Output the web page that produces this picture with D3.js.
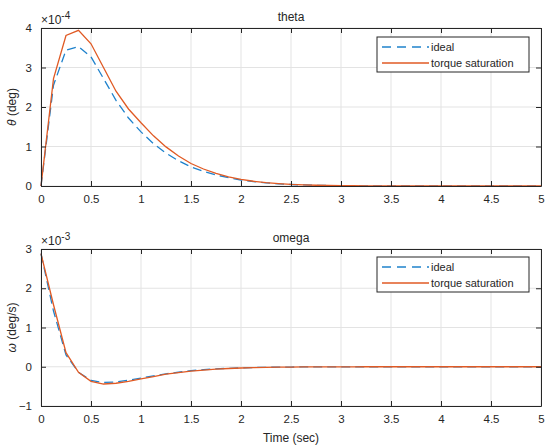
<!DOCTYPE html>
<html>
<head>
<meta charset="utf-8">
<script src="https://cdn.jsdelivr.net/npm/d3@7"></script>
<style>
  body { margin: 0; background: #fff; }
  svg text { font-family: "Liberation Sans", Arial, sans-serif; fill: #262626; }
</style>
</head>
<body>
<div id="chart"></div>
<script>
///////////// Data /////////////////

// time samples (sec), step 0.125
const time = d3.range(0, 5.0001, 0.125);

// theta (x 1e-4 deg)
const thetaIdeal = [0, 2.55, 3.44, 3.53, 3.27, 2.72, 2.17, 1.72, 1.37, 1.07, 0.83, 0.64, 0.48, 0.37, 0.28, 0.21,
    0.15, 0.11, 0.08, 0.055, 0.038, 0.026, 0.018, 0.012, 0.008, 0.005, 0.003, 0.002, 0.001, 0.001, 0,
    0, 0, 0, 0, 0, 0, 0, 0, 0, 0];
const thetaSat = [0, 2.72, 3.81, 3.94, 3.6, 3.0, 2.4, 1.95, 1.6, 1.27, 0.99, 0.76, 0.57, 0.43, 0.32, 0.23,
    0.17, 0.12, 0.085, 0.06, 0.04, 0.028, 0.019, 0.013, 0.009, 0.006, 0.004, 0.003, 0.002, 0.001, 0.001,
    0, 0, 0, 0, 0, 0, 0, 0, 0, 0];

// omega (x 1e-3 deg/s)
const omegaIdeal = [2.88, 1.42, 0.3, -0.14, -0.35, -0.4, -0.39, -0.34, -0.29, -0.23, -0.18, -0.14, -0.1, -0.075,
    -0.055, -0.04, -0.029, -0.02, -0.014, -0.01, -0.007, -0.005, -0.003, -0.002, -0.001, -0.001, 0,
    0, 0, 0, 0, 0, 0, 0, 0, 0, 0, 0, 0, 0, 0];
const omegaSat = [2.88, 1.58, 0.36, -0.14, -0.37, -0.44, -0.42, -0.37, -0.31, -0.25, -0.19, -0.15, -0.11, -0.085,
    -0.06, -0.045, -0.032, -0.022, -0.016, -0.011, -0.008, -0.005, -0.003, -0.002, -0.001, -0.001, 0,
    0, 0, 0, 0, 0, 0, 0, 0, 0, 0, 0, 0, 0, 0];

const xTicks = [0, 0.5, 1, 1.5, 2, 2.5, 3, 3.5, 4, 4.5, 5];
const seriesNames = ["ideal", "torque saturation"];
const colors = ["#1f82cc", "#e05a24"];

///////////// Layout /////////////////

const W = 545, H = 447;
const svg = d3.select("#chart").append("svg").attr("width", W).attr("height", H);

const x = d3.scaleLinear().domain([0, 5]).range([41, 541]);

const panels = [
    { title: "theta", ylab: ["θ", " (deg)"], exp: "-4", yDom: [0, 4], yRange: [186, 28],
      yTicks: [0, 1, 2, 3, 4], data: [thetaIdeal, thetaSat], legendTop: 37 },
    { title: "omega", ylab: ["ω", " (deg/s)"], exp: "-3", yDom: [-1, 3], yRange: [406, 249],
      yTicks: [-1, 0, 1, 2, 3], data: [omegaIdeal, omegaSat], legendTop: 257 }
];

panels.forEach(p => {
    const y = d3.scaleLinear().domain(p.yDom).range(p.yRange);
    const g = svg.append("g");
    const top = p.yRange[1], bottom = p.yRange[0];

    // grid
    g.selectAll(".gx").data(xTicks).enter().append("line")
        .attr("x1", d => x(d)).attr("x2", d => x(d))
        .attr("y1", top).attr("y2", bottom)
        .attr("stroke", "#e3e3e3").attr("stroke-width", 1);
    g.selectAll(".gy").data(p.yTicks).enter().append("line")
        .attr("x1", x(0)).attr("x2", x(5))
        .attr("y1", d => y(d)).attr("y2", d => y(d))
        .attr("stroke", "#e3e3e3").attr("stroke-width", 1);

    // lines
    const line = d3.line().x((d, i) => x(time[i])).y(d => y(d));
    p.data.forEach((vals, k) => {
        g.append("path").datum(vals)
            .attr("d", line)
            .attr("fill", "none")
            .attr("stroke", colors[k])
            .attr("stroke-width", 1.3)
            .attr("stroke-dasharray", k === 0 ? "9,5" : null);
    });

    // axes (ticks inside, box all round)
    const tl = 5;
    g.append("g").attr("transform", `translate(0,${bottom})`)
        .call(d3.axisBottom(x).tickValues(xTicks).tickSizeInner(-tl).tickSizeOuter(0).tickPadding(9).tickFormat(d3.format("")));
    g.append("g").attr("transform", `translate(0,${top})`)
        .call(d3.axisTop(x).tickValues(xTicks).tickSizeInner(-tl).tickSizeOuter(0).tickFormat(""));
    g.append("g").attr("transform", `translate(${x(0)},0)`)
        .call(d3.axisLeft(y).tickValues(p.yTicks).tickSizeInner(-tl).tickSizeOuter(0).tickPadding(9).tickFormat(d3.format("")));
    g.append("g").attr("transform", `translate(${x(5)},0)`)
        .call(d3.axisRight(y).tickValues(p.yTicks).tickSizeInner(-tl).tickSizeOuter(0).tickFormat(""));
    g.selectAll(".domain, .tick line").attr("stroke", "#262626");
    g.selectAll(".tick text").attr("font-size", 11.5).attr("fill", "#262626")
        .style("font-family", "'Liberation Sans', Arial, sans-serif");

    // title
    g.append("text").attr("x", (x(0) + x(5)) / 2).attr("y", top - 7)
        .attr("text-anchor", "middle").attr("font-size", 12).text(p.title);

    // exponent
    const ex = g.append("text").attr("x", x(0)).attr("y", top - 4).attr("font-size", 12);
    ex.append("tspan").text("×10");
    ex.append("tspan").attr("dy", -5).attr("font-size", 10).text(p.exp);

    // y label
    const yl = g.append("text")
        .attr("transform", `translate(16,${(top + bottom) / 2}) rotate(-90)`)
        .attr("text-anchor", "middle").attr("font-size", 12);
    yl.append("tspan").attr("font-style", "italic").text(p.ylab[0]);
    yl.append("tspan").text(p.ylab[1]);

    // legend
    const lx = 377, lw = 152, lh = 35;
    const lg = g.append("g").attr("transform", `translate(${lx},${p.legendTop})`);
    lg.append("rect").attr("width", lw).attr("height", lh)
        .attr("fill", "#fff").attr("stroke", "#262626").attr("stroke-width", 1);
    seriesNames.forEach((name, k) => {
        const ly = 10 + k * 16;
        lg.append("line").attr("x1", 5).attr("x2", 52).attr("y1", ly).attr("y2", ly)
            .attr("stroke", colors[k]).attr("stroke-width", 1.3)
            .attr("stroke-dasharray", k === 0 ? "9,6" : null);
        lg.append("text").attr("x", 54).attr("y", ly + 4).attr("font-size", 11).text(name);
    });
});

// x label
svg.append("text").attr("x", (x(0) + x(5)) / 2).attr("y", 442)
    .attr("text-anchor", "middle").attr("font-size", 12).text("Time (sec)");
</script>
</body>
</html>
